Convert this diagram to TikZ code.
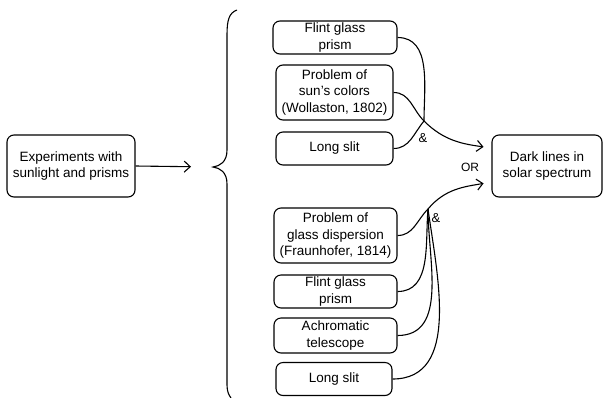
\documentclass[tikz,border=0pt]{standalone}
\usepackage{fontspec}
\setmainfont{Liberation Sans}
\usetikzlibrary{arrows.meta}

\tikzset{
  box/.style={draw, rounded corners=7pt, line width=1.1pt, align=center, inner sep=1pt,
    font=\fontsize{13.5}{16.5}\selectfont},
  link/.style={line width=1.1pt},
  arr/.style={line width=1.1pt, -{Straight Barb[length=6pt,width=11pt,line width=1.1pt]}},
  tag/.style={font=\fontsize{13}{15}\selectfont}
}

\begin{document}
\begin{tikzpicture}[x=1pt,y=1pt]
\useasboundingbox (0,0) rectangle (604,-397);
% boxes
\node[box, minimum width=128pt, minimum height=62pt] (exp) at (71,-166) {Experiments with\\sunlight and prisms};
\node[box, minimum width=124pt, minimum height=33pt] (flintA) at (335,-37.5) {Flint glass\\prism};
\node[box, minimum width=117pt, minimum height=55pt] (sun) at (334.5,-92.5) {Problem of\\sun's colors\\(Wollaston, 1802)};
\node[box, minimum width=117pt, minimum height=33pt] (slitA) at (334.5,-148.5) {Long slit};
\node[box, minimum width=110pt, minimum height=62pt] (dark) at (547,-166) {Dark lines in\\solar spectrum};
\node[box, minimum width=123pt, minimum height=55pt] (glass) at (335.5,-235.5) {Problem of\\glass dispersion\\(Fraunhofer, 1814)};
\node[box, minimum width=123pt, minimum height=33pt] (flintB) at (335.5,-291.5) {Flint glass\\prism};
\node[box, minimum width=123pt, minimum height=35pt] (achro) at (335.5,-335.5) {Achromatic\\telescope};
\node[box, minimum width=116pt, minimum height=33pt] (slitB) at (334,-379) {Long slit};
% brace
\draw[link] (237,-10) .. controls (229,-13) and (227,-20) .. (227,-35) -- (227,-150)
  .. controls (227,-162) and (220,-166) .. (213,-167) coordinate (tip)
  .. controls (220,-168) and (227,-172) .. (227,-184) -- (227,-385)
  .. controls (227,-392) and (229,-395) .. (231,-398);
\draw[arr, shorten >=22pt] (exp.east) -- (tip);
% upper group
\coordinate (j1) at (424,-121);
\draw[link] (flintA.east) to[out=0,in=90] (j1);
\draw[link] (sun.east) to[out=0,in=135] (j1);
\draw[link] (slitA.east) to[out=0,in=-130] (j1);
\draw[arr, shorten >=8pt] (j1) to[out=-45,in=172] ([yshift=18pt]dark.west);
\node[tag] (andA) at (423,-138) {\&};
% lower group
\coordinate (j2) at (428,-209);
\draw[link] (glass.east) to[out=0,in=-135] (j2);
\draw[link] (flintB.east) to[out=0,in=-95] (j2);
\draw[link] (achro.east) to[out=0,in=-90] (j2);
\draw[link] (slitB.east) to[out=0,in=-82] (j2);
\draw[arr, shorten >=8pt] (j2) to[out=50,in=190] ([yshift=-16pt]dark.west);
\node[tag] (andB) at (436,-218) {\&};
\node[tag, font=\fontsize{12}{14}\selectfont] (or) at (470,-167) {OR};
\end{tikzpicture}
\end{document}
